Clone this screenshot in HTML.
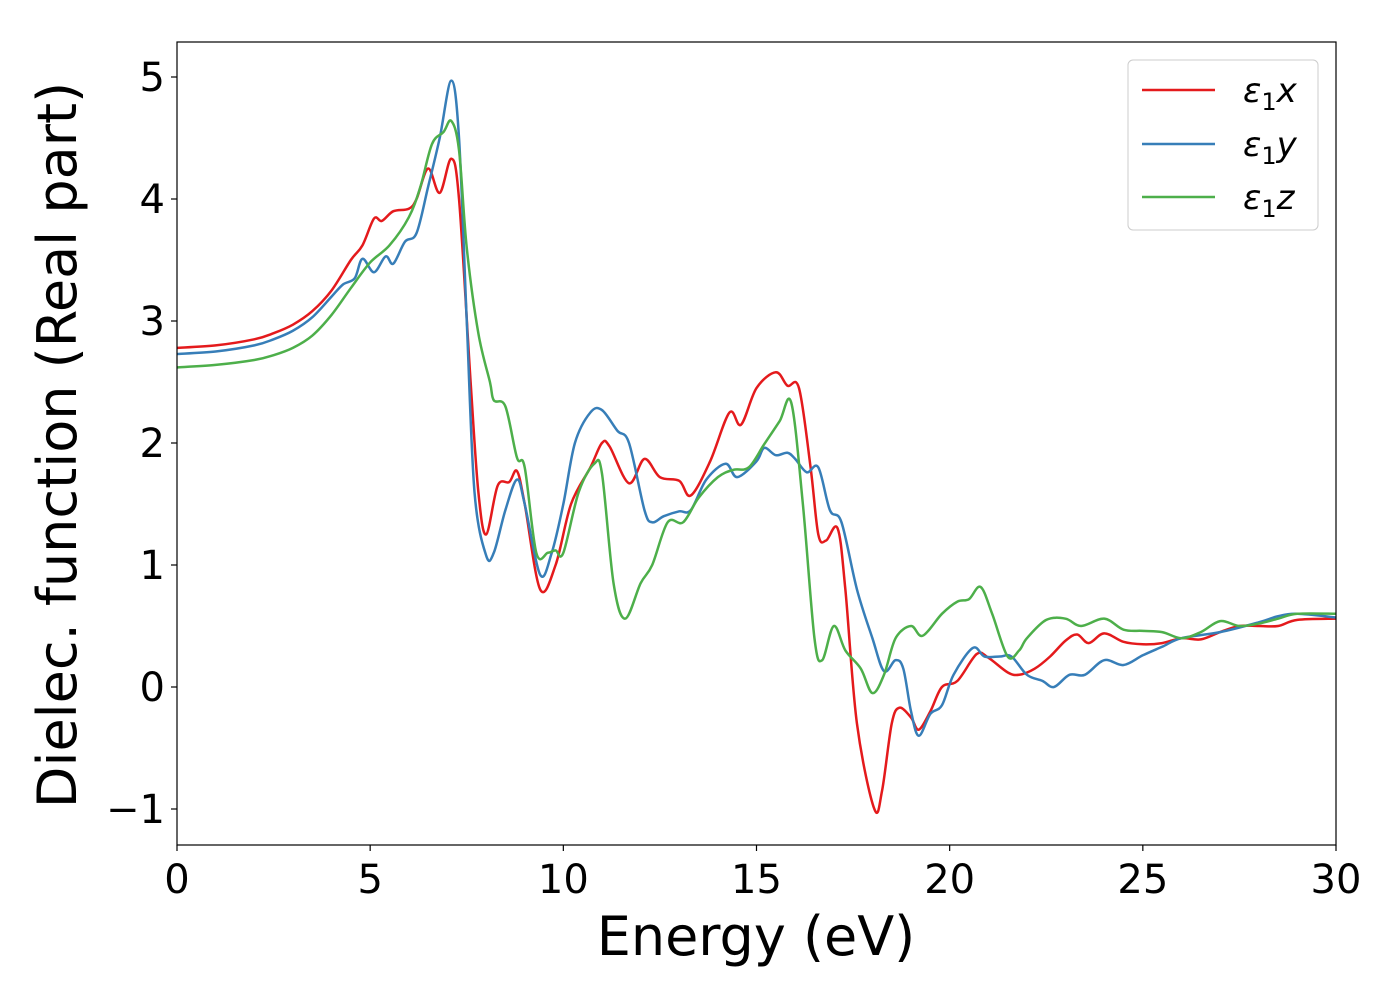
<!DOCTYPE html>
<html><head><meta charset="utf-8"><style>
body{margin:0;background:#fff;}
svg{display:block;font-family:"DejaVu Sans","Liberation Sans",sans-serif;}
</style></head><body>
<svg id="chart" width="1400" height="1000" xmlns="http://www.w3.org/2000/svg">
<g id="plot"></g>
<rect x="177" y="42" width="1159" height="803" fill="none" stroke="#000" stroke-width="1.2"/>
<g id="xt"></g>
<g id="yt"></g>
<text x="756" y="955" font-size="54" text-anchor="middle">Energy (eV)</text>
<text transform="translate(76,445) rotate(-90)" font-size="54" text-anchor="middle">Dielec. function (Real part)</text>
<g>
<rect x="1128" y="60" width="190" height="170" rx="5" fill="#fff" stroke="#ccc" stroke-width="1"/>
<g><line x1="1142" y1="90" x2="1215" y2="90" stroke="#e41a1c" stroke-width="2.5"/><text x="1243" y="102" font-size="34" font-style="italic">ε<tspan font-style="normal" font-size="24" dy="8">1</tspan><tspan dy="-8">x</tspan></text></g>
<g><line x1="1142" y1="144" x2="1215" y2="144" stroke="#377eb8" stroke-width="2.5"/><text x="1243" y="156" font-size="34" font-style="italic">ε<tspan font-style="normal" font-size="24" dy="8">1</tspan><tspan dy="-8">y</tspan></text></g>
<g><line x1="1142" y1="197" x2="1215" y2="197" stroke="#4daf4a" stroke-width="2.5"/><text x="1243" y="209" font-size="34" font-style="italic">ε<tspan font-style="normal" font-size="24" dy="8">1</tspan><tspan dy="-8">z</tspan></text></g>
</g>
</svg>
<script>
const xTicks=[0,5,10,15,20,25,30];
const yTicks=[-1,0,1,2,3,4,5];
const yTickLabels=["−1","0","1","2","3","4","5"];
const serX=[[0,2.78],[1,2.8],[2,2.85],[2.5,2.9],[3,2.97],[3.5,3.08],[4,3.25],[4.5,3.5],[4.8,3.62],[5.1,3.84],[5.3,3.82],[5.6,3.9],[6.0,3.92],[6.2,4.0],[6.5,4.25],[6.8,4.05],[7.1,4.33],[7.3,4.0],[7.6,2.5],[7.8,1.6],[8.0,1.25],[8.3,1.65],[8.6,1.68],[8.8,1.77],[9.0,1.5],[9.4,0.8],[9.8,1.0],[10.2,1.5],[10.7,1.8],[11.0,2.0],[11.2,1.97],[11.7,1.67],[12.1,1.87],[12.5,1.72],[13.0,1.69],[13.3,1.57],[13.8,1.85],[14.3,2.25],[14.6,2.15],[15.0,2.45],[15.5,2.58],[15.8,2.47],[16.1,2.45],[16.4,1.8],[16.6,1.25],[16.8,1.2],[17.1,1.3],[17.3,0.8],[17.6,-0.3],[18.05,-1.0],[18.25,-0.85],[18.5,-0.3],[18.7,-0.17],[19.0,-0.25],[19.2,-0.35],[19.5,-0.2],[19.8,0.0],[20.2,0.05],[20.7,0.27],[21.0,0.24],[21.5,0.12],[21.8,0.1],[22.2,0.15],[22.6,0.25],[23.0,0.38],[23.3,0.43],[23.6,0.36],[24.0,0.44],[24.5,0.37],[25.0,0.35],[25.5,0.36],[26,0.4],[26.5,0.39],[27,0.45],[27.5,0.5],[28,0.5],[28.5,0.5],[29,0.55],[30,0.56]];
const serY=[[0,2.73],[1,2.75],[2,2.8],[2.5,2.85],[3,2.92],[3.5,3.03],[4,3.2],[4.3,3.3],[4.6,3.35],[4.8,3.51],[5.1,3.4],[5.4,3.53],[5.6,3.47],[5.9,3.65],[6.2,3.72],[6.5,4.1],[6.8,4.5],[7.1,4.97],[7.3,4.5],[7.5,3.0],[7.7,1.6],[8.0,1.08],[8.2,1.1],[8.5,1.45],[8.8,1.7],[9.0,1.5],[9.4,0.92],[9.7,1.1],[10.0,1.5],[10.3,2.0],[10.7,2.25],[11.0,2.27],[11.4,2.1],[11.7,2.0],[12.1,1.45],[12.3,1.35],[12.6,1.4],[13.0,1.44],[13.3,1.45],[13.7,1.7],[14.2,1.83],[14.5,1.72],[15.0,1.85],[15.2,1.96],[15.5,1.9],[15.8,1.92],[16.0,1.87],[16.3,1.76],[16.6,1.8],[16.9,1.45],[17.2,1.35],[17.6,0.8],[18.0,0.4],[18.3,0.13],[18.6,0.22],[18.8,0.15],[19.0,-0.2],[19.2,-0.4],[19.5,-0.22],[19.8,-0.15],[20.1,0.1],[20.6,0.32],[20.9,0.25],[21.3,0.25],[21.6,0.25],[22.0,0.1],[22.4,0.05],[22.7,0.0],[23.1,0.1],[23.5,0.1],[24.0,0.22],[24.5,0.18],[25,0.26],[25.5,0.33],[26,0.4],[27,0.45],[28,0.53],[28.5,0.58],[29,0.6],[30,0.57]];
const serZ=[[0,2.62],[1,2.64],[2,2.68],[2.5,2.72],[3,2.78],[3.5,2.88],[4,3.05],[4.5,3.27],[5,3.48],[5.5,3.62],[6,3.85],[6.3,4.1],[6.6,4.45],[6.9,4.55],[7.1,4.64],[7.3,4.4],[7.5,3.6],[7.8,2.9],[8.1,2.5],[8.2,2.35],[8.5,2.3],[8.8,1.88],[9.0,1.8],[9.3,1.1],[9.6,1.1],[9.8,1.12],[10.0,1.1],[10.4,1.6],[10.8,1.83],[11.0,1.75],[11.3,0.85],[11.6,0.56],[12.0,0.85],[12.3,1.0],[12.7,1.35],[13.1,1.35],[13.5,1.55],[14.0,1.72],[14.4,1.78],[14.8,1.8],[15.2,1.99],[15.6,2.18],[15.9,2.33],[16.2,1.5],[16.5,0.4],[16.7,0.22],[17.0,0.5],[17.3,0.3],[17.7,0.15],[18.0,-0.05],[18.3,0.1],[18.6,0.4],[19.0,0.5],[19.3,0.42],[19.8,0.6],[20.2,0.7],[20.5,0.72],[20.8,0.82],[21.1,0.6],[21.5,0.25],[21.8,0.3],[22.0,0.4],[22.5,0.55],[23.0,0.56],[23.4,0.5],[24,0.56],[24.5,0.47],[25,0.46],[25.5,0.45],[26,0.4],[26.5,0.45],[27,0.54],[27.5,0.5],[28,0.52],[28.5,0.56],[29,0.6],[30,0.6]];
const X0=177,X1=1336,Y0=845,Y1=42,xmin=0,xmax=30,ymin=-1.2951,ymax=5.2869;
const xs=v=>X0+(v-xmin)/(xmax-xmin)*(X1-X0);
const ys=v=>Y0-(v-ymin)/(ymax-ymin)*(Y0-Y1);
const NS="http://www.w3.org/2000/svg";
function mk(t,a,p){const e=document.createElementNS(NS,t);for(const k in a)e.setAttribute(k,a[k]);p.appendChild(e);return e;}
function path(pts){const P=pts.map(p=>[xs(p[0]),ys(p[1])]);let d="M"+P[0][0]+","+P[0][1];
for(let i=0;i<P.length-1;i++){const p0=P[Math.max(0,i-1)],p1=P[i],p2=P[i+1],p3=P[Math.min(P.length-1,i+2)];
d+=" C"+(p1[0]+(p2[0]-p0[0])/6)+","+(p1[1]+(p2[1]-p0[1])/6)+" "+(p2[0]-(p3[0]-p1[0])/6)+","+(p2[1]-(p3[1]-p1[1])/6)+" "+p2[0]+","+p2[1];}return d;}
const plot=document.getElementById('plot');
[[serX,"#e41a1c","series-eps1-x"],[serY,"#377eb8","series-eps1-y"],[serZ,"#4daf4a","series-eps1-z"]].forEach(s=>{
const e=mk("path",{d:path(s[0]),fill:"none",stroke:s[1],"stroke-width":2.5,"stroke-linejoin":"round"},plot);

});
const xt=document.getElementById('xt'),yt=document.getElementById('yt');
xTicks.forEach(v=>{const x=xs(v);
const l=mk("line",{x1:x,y1:Y0,x2:x,y2:Y0+6,stroke:"#000","stroke-width":1.2},xt);


const t=mk("text",{x:x,y:893,"font-size":40,"text-anchor":"middle"},xt);t.textContent=v;

});
yTicks.forEach((v,i)=>{const y=ys(v);
const l=mk("line",{x1:X0-6,y1:y,x2:X0,y2:y,stroke:"#000","stroke-width":1.2},yt);


const t=mk("text",{x:165,y:y+14,"font-size":40,"text-anchor":"end"},yt);t.textContent=yTickLabels[i];

});
</script>
</body></html>
